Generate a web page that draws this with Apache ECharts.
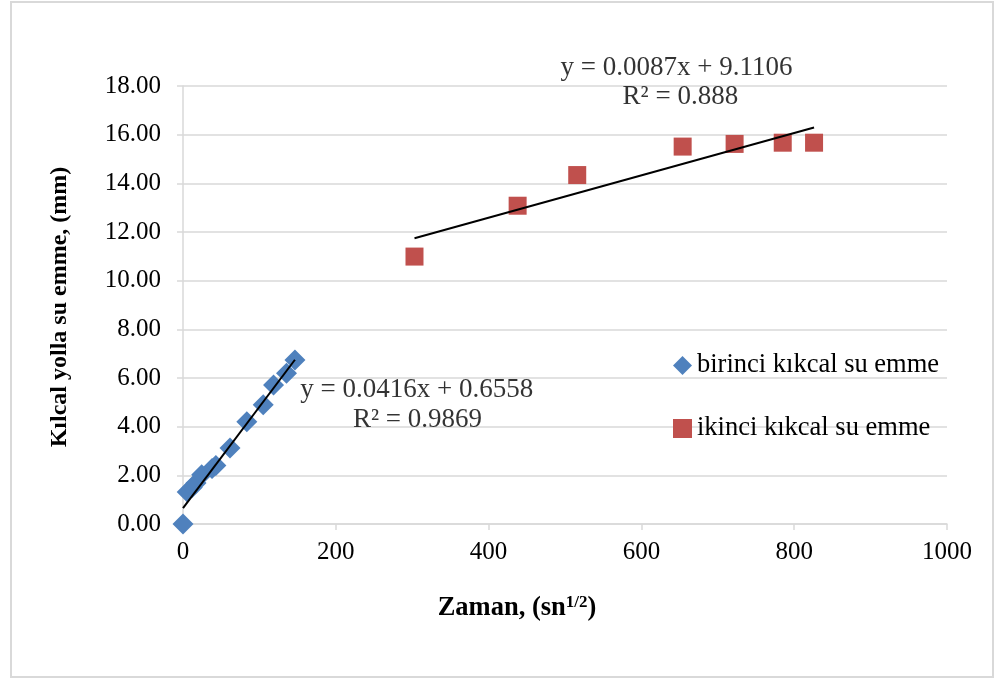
<!DOCTYPE html>
<html>
<head>
<meta charset="utf-8">
<script src="https://cdn.jsdelivr.net/npm/echarts@6/dist/echarts.min.js"></script>
<style>
  html, body { margin: 0; padding: 0; background: #fff; }
  #chart { width: 1001px; height: 680px; }
</style>
</head>
<body>
<div id="chart"></div>
<script>
// Kılcal su emme ölçümleri: zaman (sn^1/2) ve su emme (mm)
const seriesNames = ['birinci kıkcal su emme', 'ikinci kıkcal su emme'];

const firstTime   = [0, 5.5, 12, 17, 24.5, 38, 43, 61.5, 83.5, 105, 118.5, 135.5, 146.5];
const firstUptake = [0, 1.32, 1.5, 1.68, 2.02, 2.28, 2.4, 3.12, 4.2, 4.9, 5.71, 6.2, 6.74];

const secondTime   = [303, 438, 516, 654, 722, 785, 826];
const secondUptake = [10.99, 13.08, 14.34, 15.51, 15.62, 15.67, 15.67];

// Doğrusal eğilim çizgileri: [eğim, kesişim, R²]
const firstFit  = [0.0416, 0.6558, 0.9869];
const secondFit = [0.0087, 9.1106, 0.888];

// Eksen ayarları
const xTicks = { min: 0, max: 1000, interval: 200 };
const yTicks = { min: 0, max: 18, interval: 2 };

// Denklem etiketlerinin veri koordinatındaki konumları
const firstEqAt   = [[306, 5.5], [307, 4.27]];
const secondEqAt  = [[646, 18.74], [651, 17.55]];

const FONT = '"Liberation Serif", "Times New Roman", serif';
const GRID = '#d9d9d9';

function pairs(xs, ys) { return xs.map((x, i) => [x, ys[i]]); }
function fitLine(fit, xs) {
  const x0 = Math.min(...xs), x1 = Math.max(...xs);
  return [[x0, fit[0] * x0 + fit[1]], [x1, fit[0] * x1 + fit[1]]];
}
function eqText(fit) {
  return 'y = ' + fit[0] + 'x + ' + fit[1];
}
function r2Text(fit) {
  return 'R² = ' + fit[2];
}
function labelSeries(pos, fit) {
  return {
    type: 'scatter',
    silent: true,
    clip: false,
    symbolSize: 1,
    itemStyle: { color: 'rgba(0,0,0,0)' },
    data: [
      { value: pos[0], label: { formatter: eqText(fit) } },
      { value: pos[1], label: { formatter: r2Text(fit) } }
    ],
    label: {
      show: true,
      position: 'inside',
      color: '#000',
      fontFamily: FONT,
      fontSize: 27
    },
    z: 5
  };
}

const chart = echarts.init(document.getElementById('chart'));

chart.setOption({
  animation: false,
  backgroundColor: '#fff',
  grid: { left: 183, right: 54, top: 86, bottom: 156, containLabel: false },
  xAxis: {
    type: 'value',
    min: xTicks.min, max: xTicks.max, interval: xTicks.interval,
    axisLine: { show: true, lineStyle: { color: GRID, width: 1.5 } },
    axisTick: { show: true, length: 6, lineStyle: { color: GRID, width: 1.5 } },
    splitLine: { show: false },
    axisLabel: {
      color: '#000', fontFamily: FONT, fontSize: 25, margin: 16,
      formatter: v => String(v)
    }
  },
  yAxis: {
    type: 'value',
    min: yTicks.min, max: yTicks.max, interval: yTicks.interval,
    axisLine: { show: true, lineStyle: { color: GRID, width: 1.5 } },
    axisTick: { show: true, length: 6, lineStyle: { color: GRID, width: 1.5 } },
    splitLine: { show: true, lineStyle: { color: GRID, width: 1.5 } },
    axisLabel: {
      color: '#000', fontFamily: FONT, fontSize: 25, margin: 22,
      formatter: v => v.toFixed(2)
    }
  },
  legend: {
    data: [
      { name: seriesNames[0], icon: 'diamond' },
      { name: seriesNames[1], icon: 'rect' }
    ],
    orient: 'vertical',
    left: 668,
    top: 347,
    itemWidth: 19,
    itemHeight: 19,
    itemGap: 36,
    selectedMode: false,
    textStyle: { color: '#000', fontFamily: FONT, fontSize: 26.5 }
  },
  graphic: [
    {
      type: 'rect',
      shape: { x: 11, y: 2, width: 982, height: 675 },
      style: { fill: 'none', stroke: GRID, lineWidth: 2 },
      silent: true
    },
    {
      type: 'text',
      x: 517, y: 608,
      style: {
        text: '{b|Zaman, (sn}{s|1/2}{b|)}',
        align: 'center',
        verticalAlign: 'middle',
        rich: {
          b: { fontFamily: FONT, fontSize: 26.5, fontWeight: 'bold', fill: '#000' },
          s: { fontFamily: FONT, fontSize: 17, fontWeight: 'bold', fill: '#000', verticalAlign: 'top', padding: [0, 0, 10, 0] }
        }
      }
    },
    {
      type: 'text',
      x: 60, y: 307,
      rotation: Math.PI / 2,
      style: {
        text: 'Kılcal yolla su emme, (mm)',
        align: 'center',
        verticalAlign: 'middle',
        fontFamily: FONT, fontSize: 24, fontWeight: 'bold', fill: '#000'
      }
    }
  ],
  series: [
    {
      name: seriesNames[0],
      type: 'scatter',
      symbol: 'diamond',
      symbolSize: 21,
      itemStyle: { color: '#4f81bd', opacity: 1 },
      data: pairs(firstTime, firstUptake),
      z: 3
    },
    {
      name: seriesNames[1],
      type: 'scatter',
      symbol: 'rect',
      symbolSize: 18,
      itemStyle: { color: '#c0504d', opacity: 1 },
      data: pairs(secondTime, secondUptake),
      z: 3
    },
    {
      name: 'trend1',
      type: 'line',
      showSymbol: false,
      symbol: 'none',
      silent: true,
      lineStyle: { color: '#000', width: 2 },
      data: fitLine(firstFit, firstTime),
      z: 4
    },
    {
      name: 'trend2',
      type: 'line',
      showSymbol: false,
      symbol: 'none',
      silent: true,
      lineStyle: { color: '#000', width: 2 },
      data: fitLine(secondFit, secondTime),
      z: 4
    },
    labelSeries(firstEqAt, firstFit),
    labelSeries(secondEqAt, secondFit)
  ]
});
</script>
</body>
</html>
